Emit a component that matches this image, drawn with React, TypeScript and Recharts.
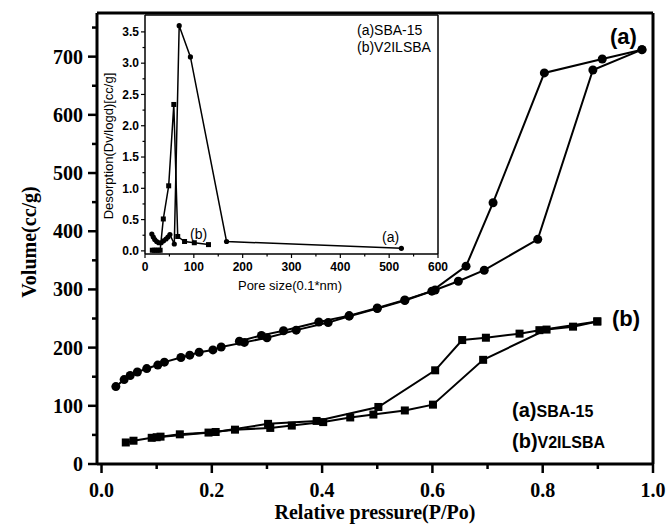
import React from 'react';
import { LineChart, Line, XAxis, YAxis } from 'recharts';

// N2 isotherms, relative pressure vs adsorbed volume (cc/g)
const sbaAdsP = [0.026, 0.041, 0.052, 0.065, 0.082, 0.102, 0.114, 0.144, 0.16, 0.177, 0.202, 0.217, 0.259, 0.3, 0.353, 0.411, 0.449, 0.5, 0.55, 0.605, 0.647, 0.694, 0.791, 0.891, 0.98];
const sbaAdsV = [133, 145, 152, 158, 164, 170, 175, 183, 187, 192, 196, 201, 209, 217, 230, 243, 254, 267, 281, 299, 314, 333, 386, 677, 712];
const sbaDesP = [0.98, 0.908, 0.803, 0.71, 0.661, 0.599, 0.55, 0.5, 0.449, 0.394, 0.33, 0.29, 0.25];
const sbaDesV = [712, 696, 672, 449, 340, 297, 282, 268, 255, 244, 229, 221, 211];

const v2AdsP = [0.044, 0.058, 0.091, 0.107, 0.142, 0.194, 0.242, 0.306, 0.345, 0.402, 0.451, 0.493, 0.55, 0.601, 0.692, 0.807, 0.855, 0.899];
const v2AdsV = [37, 40, 45, 47, 51, 54, 59, 62, 66, 72, 80, 85, 92, 102, 179, 231, 236, 245];
const v2DesP = [0.899, 0.794, 0.758, 0.697, 0.654, 0.605, 0.502, 0.39, 0.302, 0.207, 0.1];
const v2DesV = [245, 230, 224, 217, 213, 161, 98, 74, 69, 55, 46];

// pore size distribution, desorption branch
const poreA = [14, 17, 20, 24, 28, 33, 38, 43, 47, 51, 60, 70, 93, 167, 525];
const desorbA = [0.27, 0.22, 0.18, 0.15, 0.13, 0.13, 0.16, 0.19, 0.22, 0.26, 0.11, 3.6, 3.1, 0.15, 0.04];
const poreB = [15, 19, 23, 27, 31, 37.5, 48.5, 59, 67, 81, 101, 130];
const desorbB = [0.01, 0.01, 0.01, 0.01, 0.01, 0.51, 1.04, 2.34, 0.23, 0.15, 0.13, 0.1];

const pressureTicks = [0, 0.1, 0.2, 0.3, 0.4, 0.5, 0.6, 0.7, 0.8, 0.9, 1.0];
const volumeTicks = [0, 50, 100, 150, 200, 250, 300, 350, 400, 450, 500, 550, 600, 650, 700, 750];
const poreTicks = [0, 50, 100, 150, 200, 250, 300, 350, 400, 450, 500, 550, 600];
const desorbTicks = [0, 0.25, 0.5, 0.75, 1, 1.25, 1.5, 1.75, 2, 2.25, 2.5, 2.75, 3, 3.25, 3.5];

const toRows = (xs: number[], ys: number[]) => xs.map((x, i) => ({ p: x, v: ys[i] }));

const SERIF = '"Liberation Serif", "Times New Roman", serif';
const SANS = '"Liberation Sans", Arial, sans-serif';

const circleDot = (r: number) => (props: any) => (
  <circle key={`c${props.index}`} cx={props.cx} cy={props.cy} r={r} fill="#000" />
);
const squareDot = (s: number) => (props: any) => (
  <rect key={`s${props.index}`} x={props.cx - s / 2} y={props.cy - s / 2} width={s} height={s} fill="#000" />
);

const MainXTick = (props: any) => {
  const { x, y, payload } = props;
  const major = Math.round(payload.value * 10) % 2 === 0;
  return (
    <g>
      <line x1={x} x2={x} y1={y} y2={y + (major ? 9 : 5)} stroke="#000" strokeWidth={2.5} />
      {major && (
        <text x={x} y={y + 33} textAnchor="middle" fontFamily={SERIF} fontWeight="bold" fontSize={20} fill="#000">
          {payload.value.toFixed(1)}
        </text>
      )}
    </g>
  );
};

const MainYTick = (props: any) => {
  const { x, y, payload } = props;
  const major = payload.value % 100 === 0;
  return (
    <g>
      <line x1={x} x2={x - (major ? 9 : 5)} y1={y} y2={y} stroke="#000" strokeWidth={2.5} />
      {major && (
        <text x={x - 14} y={y} dy="0.35em" textAnchor="end" fontFamily={SERIF} fontWeight="bold" fontSize={20} fill="#000">
          {payload.value}
        </text>
      )}
    </g>
  );
};

const InsetXTick = (props: any) => {
  const { x, y, payload } = props;
  const major = payload.value % 100 === 0;
  return (
    <g>
      <line x1={x} x2={x} y1={y} y2={y + (major ? 4 : 2.5)} stroke="#000" strokeWidth={1.2} />
      {major && (
        <text x={x} y={y + 16.5} textAnchor="middle" fontFamily={SANS} fontWeight="bold" fontSize={12} fill="#000">
          {payload.value}
        </text>
      )}
    </g>
  );
};

const InsetYTick = (props: any) => {
  const { x, y, payload } = props;
  const major = Math.round(payload.value * 4) % 2 === 0;
  return (
    <g>
      <line x1={x} x2={x - (major ? 4 : 2.5)} y1={y} y2={y} stroke="#000" strokeWidth={1.2} />
      {major && (
        <text x={x - 6} y={y} dy="0.35em" textAnchor="end" fontFamily={SANS} fontWeight="bold" fontSize={12} fill="#000">
          {payload.value.toFixed(1)}
        </text>
      )}
    </g>
  );
};

const frame = { stroke: '#000', strokeWidth: 3 };
const insetFrame = { stroke: '#000', strokeWidth: 1.5 };

export default function App() {
  const pDomain: [number, number] = [-0.0082, 1];
  const vDomain: [number, number] = [0, 775];
  const poreDomain: [number, number] = [0, 600];
  const desDomain: [number, number] = [-0.05, 3.77];

  return (
    <div style={{ position: 'absolute', left: 0, top: 0, width: 672, height: 525, overflow: 'hidden', background: '#fff' }}>
      <LineChart width={672} height={525} margin={{ top: 12, right: 18, bottom: 60, left: 96 }}>
        <XAxis xAxisId="b" type="number" dataKey="p" domain={pDomain} ticks={pressureTicks} allowDataOverflow
          height={1} tickSize={0} tickMargin={0} tickLine={false} axisLine={frame} tick={MainXTick} interval={0} />
        <XAxis xAxisId="t" orientation="top" type="number" dataKey="p" domain={pDomain} ticks={pressureTicks} allowDataOverflow
          height={1} tick={false} tickLine={false} axisLine={frame} />
        <YAxis yAxisId="l" type="number" dataKey="v" domain={vDomain} ticks={volumeTicks} allowDataOverflow
          width={1} tickSize={0} tickMargin={0} tickLine={false} axisLine={frame} tick={MainYTick} interval={0} />
        <YAxis yAxisId="r" orientation="right" type="number" dataKey="v" domain={vDomain} ticks={volumeTicks} allowDataOverflow
          width={1} tick={false} tickLine={false} axisLine={frame} />
        <Line xAxisId="b" yAxisId="l" data={toRows(sbaAdsP, sbaAdsV)} dataKey="v" stroke="#000" strokeWidth={2}
          dot={circleDot(4.5)} isAnimationActive={false} />
        <Line xAxisId="b" yAxisId="l" data={toRows(sbaDesP, sbaDesV)} dataKey="v" stroke="#000" strokeWidth={2}
          dot={circleDot(4.5)} isAnimationActive={false} />
        <Line xAxisId="b" yAxisId="l" data={toRows(v2AdsP, v2AdsV)} dataKey="v" stroke="#000" strokeWidth={2}
          dot={squareDot(8)} isAnimationActive={false} />
        <Line xAxisId="b" yAxisId="l" data={toRows(v2DesP, v2DesV)} dataKey="v" stroke="#000" strokeWidth={2}
          dot={squareDot(8)} isAnimationActive={false} />
      </LineChart>

      {/* pore size distribution inset */}
      <div style={{ position: 'absolute', left: 100, top: 0 }}>
        <LineChart width={360} height={285} margin={{ top: 14, right: 21, bottom: 30, left: 44 }}>
          <XAxis xAxisId="b" type="number" dataKey="p" domain={poreDomain} ticks={poreTicks} allowDataOverflow
            height={1} tickSize={0} tickMargin={0} tickLine={false} axisLine={insetFrame} tick={InsetXTick} interval={0} />
          <XAxis xAxisId="t" orientation="top" type="number" dataKey="p" domain={poreDomain} ticks={poreTicks} allowDataOverflow
            height={1} tick={false} tickLine={false} axisLine={insetFrame} />
          <YAxis yAxisId="l" type="number" dataKey="v" domain={desDomain} ticks={desorbTicks} allowDataOverflow
            width={1} tickSize={0} tickMargin={0} tickLine={false} axisLine={insetFrame} tick={InsetYTick} interval={0} />
          <YAxis yAxisId="r" orientation="right" type="number" dataKey="v" domain={desDomain} ticks={desorbTicks} allowDataOverflow
            width={1} tick={false} tickLine={false} axisLine={insetFrame} />
          <Line xAxisId="b" yAxisId="l" data={toRows(poreA, desorbA)} dataKey="v" stroke="#000" strokeWidth={1.5}
            dot={circleDot(2.6)} isAnimationActive={false} />
          <Line xAxisId="b" yAxisId="l" data={toRows(poreB, desorbB)} dataKey="v" stroke="#000" strokeWidth={1.5}
            dot={squareDot(5)} isAnimationActive={false} />
        </LineChart>
      </div>

      <svg width={672} height={525} style={{ position: 'absolute', left: 0, top: 0, pointerEvents: 'none' }}>
        <text x={29} y={242} transform="rotate(-90 29 242)" textAnchor="middle" dy="0.35em"
          fontFamily={SERIF} fontWeight="bold" fontSize={20}>Volume(cc/g)</text>
        <text x={375} y={519} textAnchor="middle" fontFamily={SERIF} fontWeight="bold" fontSize={20}>
          Relative pressure(P/Po)
        </text>

        <text x={610} y={44} fontFamily={SANS} fontWeight="bold" fontSize={22}>(a)</text>
        <text x={612} y={326} fontFamily={SANS} fontWeight="bold" fontSize={22}>(b)</text>

        <text x={512} y={417} fontFamily={SANS} fontWeight="bold">
          <tspan fontSize={20}>(a)</tspan><tspan fontSize={16}>SBA-15</tspan>
        </text>
        <text x={512} y={448} fontFamily={SANS} fontWeight="bold">
          <tspan fontSize={20}>(b)</tspan><tspan fontSize={16}>V2ILSBA</tspan>
        </text>

        <text x={108} y={146} transform="rotate(-90 108 146)" textAnchor="middle" dy="0.35em"
          fontFamily={SANS} fontSize={13}>Desorption(Dv/logd)[cc/g]</text>
        <text x={290} y={290} textAnchor="middle" fontFamily={SANS} fontSize={13}>Pore size(0.1*nm)</text>

        <text x={357} y={35} fontFamily={SANS} fontSize={14}>(a)SBA-15</text>
        <text x={357} y={52} fontFamily={SANS} fontSize={14}>(b)V2ILSBA</text>
        <text x={190} y={239} fontFamily={SANS} fontSize={14}>(b)</text>
        <text x={382} y={242} fontFamily={SANS} fontSize={14}>(a)</text>
      </svg>
    </div>
  );
}
